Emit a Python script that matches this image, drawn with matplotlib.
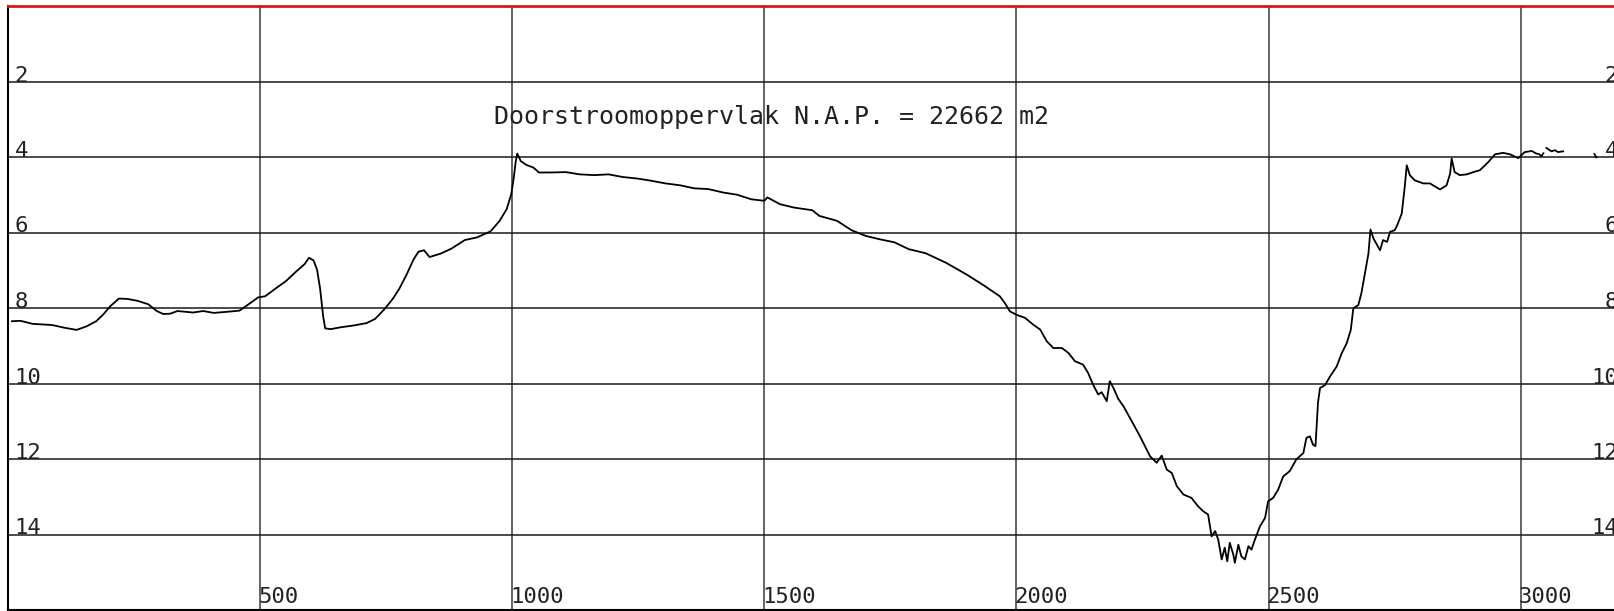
import numpy as np
import matplotlib
matplotlib.use("Agg")
import matplotlib.pyplot as plt

# Profile: distance along section (m) and depth below N.A.P. (m); NaN = gap in the trace
distance = [
    8, 25, 49, 87, 111, 136, 155, 175, 189, 203, 220, 237, 257, 278, 295, 308, 322, 336,
    367, 387, 408, 435, 459, 472, 496, 510, 530, 551, 571, 588, 597, 606, 613, 619, 625,
    629, 640, 660, 687, 711, 728, 746, 763, 776, 790, 804, 814, 825, 836, 858, 879, 906,
    930, 957, 975, 989, 998, 1003, 1007, 1010, 1017, 1028, 1042, 1053, 1078, 1106, 1134,
    1163, 1191, 1219, 1248, 1276, 1304, 1333, 1361, 1389, 1418, 1446, 1474, 1500, 1506,
    1531, 1559, 1595, 1609, 1644, 1673, 1701, 1729, 1758, 1786, 1820, 1860, 1902, 1935,
    1967, 1977, 1987, 2000, 2017, 2033, 2047, 2060, 2073, 2090, 2103, 2116, 2132, 2142,
    2152, 2162, 2169, 2179, 2185, 2192, 2202, 2212, 2225, 2245, 2265, 2278, 2288, 2298,
    2308, 2318, 2331, 2347, 2360, 2370, 2380, 2387, 2394, 2400, 2407, 2413, 2418, 2423,
    2430, 2433, 2440, 2446, 2453, 2460, 2466, 2473, 2483, 2493, 2499, 2509, 2519, 2529,
    2542, 2555, 2569, 2575, 2582, 2588, 2593, 2598, 2602, 2612, 2622, 2635, 2645, 2655,
    2663, 2668, 2678, 2684, 2691, 2698, 2702, 2708, 2721, 2727, 2735, 2741, 2750, 2755,
    2764, 2770, 2774, 2780, 2790, 2807, 2820, 2840, 2853, 2860, 2863, 2869, 2879, 2893,
    2906, 2919, 2936, 2949, 2965, 2979, 2995, 3008, 3022, 3031, 3036, 3041, 3045,
    3048, 3051, 3061, 3068, 3074, 3084, 3100, 3146, 3150,
]
depth = [
    8.35, 8.34, 8.42, 8.45, 8.52, 8.58, 8.49, 8.35, 8.17, 7.95, 7.75, 7.76, 7.81, 7.90,
    8.08, 8.16, 8.15, 8.08, 8.12, 8.08, 8.13, 8.10, 8.07, 7.95, 7.72, 7.69, 7.49, 7.29,
    7.04, 6.84, 6.67, 6.74, 6.99, 7.49, 8.22, 8.54, 8.56, 8.51, 8.46, 8.40, 8.29, 8.04,
    7.76, 7.49, 7.13, 6.72, 6.51, 6.47, 6.65, 6.56, 6.43, 6.20, 6.13, 5.97, 5.69, 5.38,
    4.99, 4.55, 4.11, 3.91, 4.11, 4.21, 4.28, 4.41, 4.41, 4.40, 4.46, 4.48, 4.46, 4.53,
    4.57, 4.63, 4.70, 4.75, 4.83, 4.85, 4.94, 5.00, 5.12, 5.16, 5.07, 5.25, 5.34, 5.41,
    5.56, 5.69, 5.94, 6.09, 6.18, 6.26, 6.44, 6.55, 6.80, 7.12, 7.40, 7.69, 7.87, 8.09,
    8.18, 8.26, 8.44, 8.57, 8.88, 9.06, 9.06, 9.19, 9.41, 9.50, 9.72, 10.03, 10.29, 10.23,
    10.47, 9.94, 10.11, 10.41, 10.60, 10.91, 11.40, 11.93, 12.10, 11.91, 12.28, 12.37,
    12.72, 12.94, 13.03, 13.25, 13.38, 13.47, 14.05, 13.91, 14.13, 14.66, 14.35, 14.71,
    14.22, 14.53, 14.75, 14.27, 14.58, 14.66, 14.31, 14.40, 14.13, 13.78, 13.56, 13.12,
    13.03, 12.81, 12.46, 12.32, 12.01, 11.84, 11.44, 11.40, 11.62, 11.66, 10.50, 10.12,
    10.04, 9.81, 9.55, 9.20, 8.93, 8.58, 8.01, 7.92, 7.61, 7.08, 6.56, 5.92, 6.16, 6.47,
    6.20, 6.25, 5.98, 5.94, 5.81, 5.50, 4.79, 4.22, 4.48, 4.62, 4.70, 4.70, 4.86, 4.75,
    4.44, 4.04, 4.40, 4.48, 4.46, 4.40, 4.35, 4.13, 3.93, 3.89, 3.93, 4.03, 3.87, 3.84,
    3.91, 3.92, 3.98, 3.90, np.nan, 3.76, 3.85, 3.82, 3.87, 3.85, np.nan, 3.92, 4.01,
]

x_ticks = [500, 1000, 1500, 2000, 2500, 3000]
y_ticks = [2, 4, 6, 8, 10, 12, 14]
title_text = "Doorstroomoppervlak N.A.P. = 22662 m2"

W, H = 1614, 611
fig = plt.figure(figsize=(W / 100, H / 100), dpi=100)
ax = fig.add_axes([8 / W, 1 / H, (W - 8) / W, 604 / H])
ax.set_xlim(0, 3185)
ax.set_ylim(16, 0)

mono = "DejaVu Sans Mono"
for xv in x_ticks:
    ax.axvline(xv, color="#3a3a3a", lw=1.1, zorder=1)
for yv in y_ticks:
    ax.axhline(yv, color="#1a1a1a", lw=1.1, zorder=1)

ax.plot(distance, depth, color="black", lw=1.3, zorder=3)

ax.set_xticks([])
ax.set_yticks([])
for s in ("left", "bottom"):
    ax.spines[s].set_color("black")
    ax.spines[s].set_linewidth(1.5)
ax.spines["right"].set_visible(False)
ax.spines["top"].set_color("#d41a1a")
ax.spines["top"].set_linewidth(2)

for yv in y_ticks:
    ax.text(13, yv, str(yv), ha="left", va="baseline", fontsize=16,
            family=mono, color="#222222", zorder=4)
    ax.annotate(str(yv), xy=(1618 / W, yv), xycoords=("figure fraction", "data"),
                ha="right", va="baseline", fontsize=16, family=mono,
                color="#222222", annotation_clip=False)
for xv in x_ticks:
    ax.text(xv - 4, 15.81, str(xv), ha="left", va="baseline", fontsize=16,
            family=mono, color="#222222", zorder=4)

ax.text(963, 2.93, title_text, ha="left", va="center", fontsize=18,
        family=mono, color="#222222")

fig.savefig("out.png", dpi=100)
